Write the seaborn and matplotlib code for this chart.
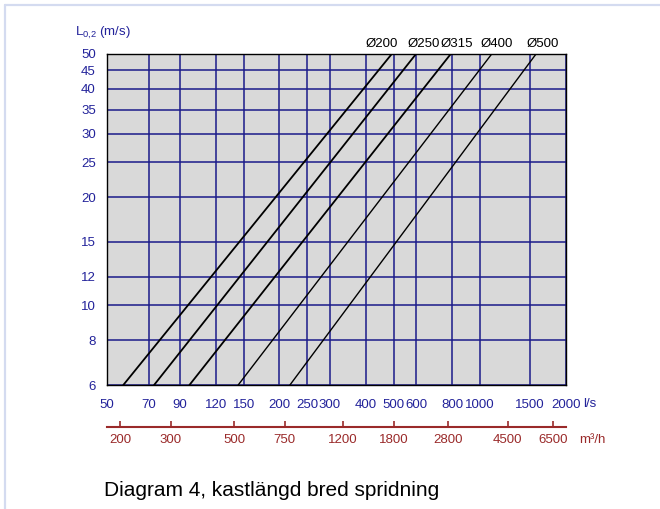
#!/usr/bin/env python3
"""Kastlängd diagram 4 (bred spridning) - log-log throw length vs air flow."""
import matplotlib
matplotlib.use("Agg")
import matplotlib.pyplot as plt
import matplotlib.ticker as mticker
from matplotlib.lines import Line2D
import pandas as pd
import seaborn as sns

# data
diameters = ["Ø200", "Ø250", "Ø315", "Ø400", "Ø500"]
flow_start = [57.0, 73.0, 97.0, 143.5, 217.5]      # l/s at L = 6 m/s
flow_end = [493.0, 599.0, 792.0, 1101.0, 1572.0]   # l/s at L = 50 m/s
throw_start = [6, 6, 6, 6, 6]
throw_end = [50, 50, 50, 50, 50]

x_ticks = [50, 70, 90, 120, 150, 200, 250, 300, 400, 500, 600, 800, 1000, 1500, 2000]
y_ticks = [6, 8, 10, 12, 15, 20, 25, 30, 35, 40, 45, 50]
m3h_ticks = [200, 300, 500, 750, 1200, 1800, 2800, 4500, 6500]

BLUE = "#22229a"
GRID = "#1b1b8a"
RED = "#9a2a2a"

sns.set_theme(style="white")
plt.rcParams["font.family"] = ["Liberation Sans", "DejaVu Sans"]

rows = []
for d, x0, x1, y0, y1 in zip(diameters, flow_start, flow_end, throw_start, throw_end):
    rows.append({"d": d, "flow": x0, "throw": y0})
    rows.append({"d": d, "flow": x1, "throw": y1})
df = pd.DataFrame(rows)

fig = plt.figure(figsize=(6.6, 5.09), dpi=100)
ax = fig.add_axes([107 / 660, 124 / 509, 459 / 660, 331 / 509])
ax.set_facecolor("#d9d9d9")
ax.set_xscale("log")
ax.set_yscale("log")

sns.lineplot(data=df, x="flow", y="throw", hue="d", palette=["black"] * 5,
             size="d", sizes={"Ø200": 1.3, "Ø250": 1.3, "Ø315": 1.3, "Ø400": 1.0, "Ø500": 1.0},
             legend=False, ax=ax, zorder=3)

ax.set_xlim(50, 2000)
ax.set_ylim(6, 50)
ax.xaxis.set_major_locator(mticker.FixedLocator(x_ticks))
ax.xaxis.set_major_formatter(mticker.FixedFormatter([str(v) for v in x_ticks]))
ax.xaxis.set_minor_locator(mticker.NullLocator())
ax.yaxis.set_major_locator(mticker.FixedLocator(y_ticks))
ax.yaxis.set_major_formatter(mticker.FixedFormatter([str(v) for v in y_ticks]))
ax.yaxis.set_minor_locator(mticker.NullLocator())
ax.tick_params(axis="both", which="major", direction="out", length=4, width=1.2,
               color=BLUE, labelcolor=BLUE, labelsize=9.5, pad=4)
ax.tick_params(axis="x", pad=6)
ax.grid(True, color=GRID, lw=1.1, zorder=1)
ax.set_axisbelow(True)
ax.set_xlabel("")
ax.set_ylabel("")
for s in ax.spines.values():
    s.set_color("black")
    s.set_linewidth(1.0)
    s.set_zorder(4)

# diameter labels above the top edge
offsets = [-10, 8, 6, 5, 7]
for d, x1, y1, off in zip(diameters, flow_end, throw_end, offsets):
    ax.annotate(d, xy=(x1, y1), xytext=(off * 0.72, 7), textcoords="offset points",
                ha="center", va="center", fontsize=9.5, color="black")

# m3/h scale under the axes
sec = ax.secondary_xaxis(-0.127, functions=(lambda x: x * 3.6, lambda x: x / 3.6))
sec.xaxis.set_major_locator(mticker.FixedLocator(m3h_ticks))
sec.xaxis.set_major_formatter(mticker.FixedFormatter([str(v) for v in m3h_ticks]))
sec.xaxis.set_minor_locator(mticker.NullLocator())
sec.tick_params(axis="x", direction="in", length=4, width=1.2, color=RED,
                labelcolor=RED, labelsize=9.5, pad=5)
sec.spines["bottom"].set_color(RED)
sec.spines["bottom"].set_linewidth(1.5)

fig.text(75 / 660, 1 - 33 / 509, r"L$_\mathregular{0{,}2}$ (m/s)", color=BLUE,
         fontsize=9.5, ha="left", va="center")
fig.text(583 / 660, 1 - 404 / 509, "l/s", color=BLUE, fontsize=9.5, ha="left", va="center")
fig.text(579 / 660, 1 - 440 / 509, "m³/h", color=RED, fontsize=9.5, ha="left", va="center")
fig.text(104 / 660, 1 - 490 / 509, "Diagram 4, kastlängd bred spridning",
         color="black", fontsize=15, ha="left", va="center")

# light frame lines at the top and left of the picture
fig.add_artist(Line2D([5 / 660, 1], [1 - 4.5 / 509, 1 - 4.5 / 509],
                      transform=fig.transFigure, color="#d4dbf0", lw=1.6))
fig.add_artist(Line2D([5 / 660, 5 / 660], [0, 1 - 4.5 / 509],
                      transform=fig.transFigure, color="#d4dbf0", lw=1.6))

fig.savefig("out.png", dpi=100)
